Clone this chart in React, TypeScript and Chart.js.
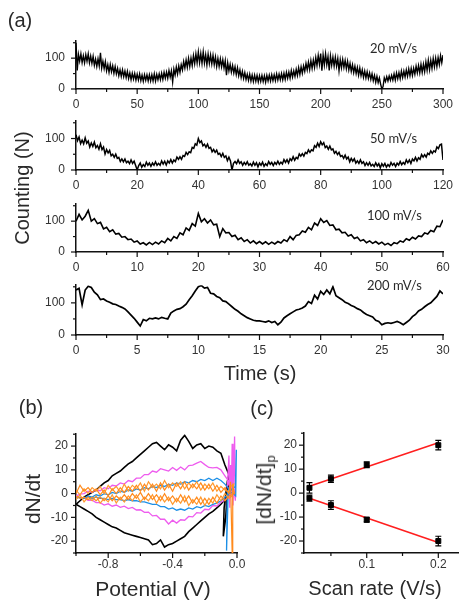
import React, { useEffect, useRef } from "react";
import { Chart, registerables } from "chart.js";

Chart.register(...registerables);

const FONT = "'Liberation Sans', Arial, Helvetica, sans-serif";
const TXT = "#2a2a2a";
const TICK_TXT = "#333";
const AXIS = "#111";

// ---------------- Panel (a): counting traces (uniform sampling) ----------------
const A1_DT = 1; // s, 20 mV/s
const A1_COUNTS = [
  150, 60, 112, 90, 114, 86, 108, 85, 111, 90,
  114, 85, 107, 83, 106, 77, 97, 73, 98, 75,
  117, 68, 90, 66, 89, 59, 79, 54, 79, 56,
  75, 51, 73, 49, 67, 43, 62, 41, 62, 40,
  58, 37, 57, 34, 52, 30, 51, 32, 50, 29,
  48, 29, 49, 27, 45, 25, 46, 28, 46, 26,
  46, 26, 46, 26, 49, 26, 47, 30, 49, 30,
  51, 31, 54, 35, 55, 35, 60, 39, 59, 23,
  64, 45, 71, 49, 75, 54, 79, 62, 89, 68,
  94, 70, 99, 73, 100, 76, 108, 82, 114, 85,
  120, 85, 115, 83, 120, 84, 111, 78, 113, 83,
  110, 81, 109, 79, 104, 73, 99, 73, 98, 72,
  95, 68, 92, 45, 85, 59, 80, 55, 76, 52,
  72, 47, 69, 43, 62, 37, 57, 34, 53, 31,
  48, 28, 48, 26, 45, 24, 45, 25, 44, 23,
  43, 25, 44, 24, 43, 22, 44, 26, 45, 26,
  46, 27, 46, 27, 49, 29, 48, 30, 50, 30,
  51, 31, 54, 35, 55, 35, 60, 39, 59, 41,
  64, 44, 69, 47, 72, 51, 75, 57, 83, 62,
  87, 63, 92, 67, 94, 70, 102, 76, 109, 80,
  115, 59, 110, 78, 114, 79, 105, 60, 107, 77,
  103, 74, 103, 74, 99, 59, 95, 69, 96, 70,
  93, 66, 90, 62, 83, 57, 78, 53, 74, 50,
  70, 45, 68, 43, 62, 38, 58, 36, 56, 34,
  52, 31, 49, 27, 44, 22, 41, 21, 36, 16,
  0, 8, 36, 24, 40, 26, 42, 28, 44, 29,
  49, 29, 52, 33, 53, 33, 58, 37, 58, 39,
  62, 41, 65, 43, 67, 44, 67, 48, 74, 52,
  76, 52, 80, 54, 80, 56, 88, 61, 93, 63,
  93, 67, 99, 72, 100, 73, 102, 79, 108, 85,
  110,
];

const A2_DT = 0.5; // s, 50 mV/s
const A2_COUNTS = [
  112, 93, 105, 84, 95, 83, 102, 85, 92, 73,
  86, 75, 89, 71, 78, 66, 83, 65, 73, 51,
  65, 54, 62, 45, 50, 40, 50, 37, 40, 27,
  35, 26, 35, 23, 28, 20, 32, 21, 28, 14,
  0, 14, 22, 9, 17, 11, 25, 15, 22, 12,
  22, 15, 26, 15, 21, 15, 29, 19, 28, 16,
  29, 22, 33, 22, 32, 27, 41, 34, 42, 34,
  46, 43, 56, 49, 58, 55, 72, 69, 83, 79,
  100, 87, 92, 77, 82, 72, 82, 69, 72, 58,
  65, 56, 63, 50, 53, 43, 53, 40, 45, 30,
  41, 29, 0, 21, 27, 20, 32, 21, 26, 15,
  24, 17, 26, 15, 20, 13, 25, 15, 23, 10,
  22, 15, 25, 12, 20, 14, 27, 18, 24, 14,
  24, 18, 28, 18, 25, 19, 33, 24, 33, 22,
  36, 30, 42, 31, 40, 36, 51, 44, 52, 44,
  56, 52, 64, 56, 64, 61, 77, 72, 85, 75,
  90, 80, 87, 71, 76, 66, 76, 64, 67, 53,
  59, 49, 56, 43, 46, 37, 47, 35, 41, 26,
  37, 28, 36, 22, 29, 21, 32, 21, 26, 14,
  23, 15, 24, 13, 18, 11, 23, 13, 20, 7,
  20, 12, 21, 9, 17, 11, 24, 15, 21, 11,
  22, 16, 27, 17, 24, 18, 32, 23, 32, 21,
  35, 29, 40, 29, 39, 34, 49, 41, 49, 41,
  53, 49, 61, 53, 61, 57, 73, 68, 80, 82,
  32,
];

const A3_DT = 0.5; // s, 100 mV/s
const A3_COUNTS = [
  100, 122, 104, 116, 135, 100, 108, 92, 96, 75,
  80, 66, 72, 58, 60, 48, 50, 40, 42, 32,
  36, 26, 30, 23, 31, 24, 32, 26, 36, 30,
  44, 36, 50, 44, 62, 56, 78, 70, 92, 84,
  125, 98, 108, 94, 104, 88, 90, 50, 76, 62,
  63, 50, 54, 40, 46, 34, 40, 29, 36, 27,
  34, 26, 33, 25, 32, 26, 34, 29, 40, 34,
  50, 40, 54, 56, 68, 64, 80, 72, 94, 86,
  108, 96, 102, 86, 88, 72, 74, 62, 64, 52,
  56, 44, 48, 36, 40, 30, 36, 28, 34, 26,
  32, 23, 28, 21, 30, 27, 36, 32, 43, 38,
  48, 42, 52, 50, 62, 58, 70, 66, 84, 82,
  104,
];

const A4_DT = 0.25; // s, 200 mV/s
const A4_COUNTS = [
  140, 145, 94, 140, 152, 148, 133, 125, 110, 112,
  106, 102, 97, 95, 90, 86, 81, 72, 62, 52,
  40, 28, 48, 44, 52, 50, 53, 50, 55, 52,
  50, 68, 75, 80, 82, 88, 96, 110, 122, 137,
  150, 154, 146, 148, 130, 128, 120, 116, 106, 104,
  96, 88, 80, 74, 66, 60, 54, 50, 46, 44,
  44, 42, 40, 44, 39, 42, 32, 40, 53, 60,
  66, 72, 78, 80, 84, 90, 104, 98, 124, 112,
  136, 126, 140, 128, 150, 122, 116, 110, 102, 98,
  92, 88, 82, 78, 70, 64, 60, 56, 46, 42,
  32, 36, 38, 36, 39, 42, 38, 32, 39, 46,
  57, 64, 75, 80, 88, 95, 100, 110, 120, 137,
  128,
];

// ---------------- Panel (b): dN/dt vs potential ----------------
const CV_POT = [
  -1.0, -0.975, -0.95, -0.925, -0.9, -0.875, -0.85, -0.825, -0.8, -0.775,
  -0.75, -0.725, -0.7, -0.675, -0.65, -0.625, -0.6, -0.575, -0.55, -0.525,
  -0.5, -0.475, -0.45, -0.425, -0.4, -0.375, -0.35, -0.325, -0.3, -0.275,
  -0.25, -0.225, -0.2, -0.175, -0.15, -0.125, -0.1, -0.075, -0.05,
];
const CV_POT_BACK = [...CV_POT].reverse();

const BLACK_UP = [
  -4.5, -3, -1.5, -0.5, 0.5, 1.5, 3, 4.5, 5.5, 7.5,
  8.5, 9.5, 11, 12.5, 13.5, 15, 16.5, 18, 19.5, 21,
  21.5, 20, 18.5, 20.5, 19.5, 18, 22.5, 24.5, 22, 19,
  20.5, 21, 19, 20, 19.5, 18, 17, 12, 8,
];
const BLACK_END_V = [-0.06, -0.08, -0.085, -0.07, -0.06, -0.05, -0.045];
const BLACK_END_D = [5, -6, -18, -10, 2, 5, 1];
const BLACK_DOWN = [
  -1, -2.5, -4.5, -6, -7.5, -8.5, -10, -11.5, -13, -14.5,
  -16, -18, -19, -20, -21, -21.5, -22.5, -19.5, -21, -21.5,
  -19.5, -19, -18.5, -18, -17.5, -17, -16.5, -15.5, -14.5, -14,
  -13, -12, -11, -10, -8.5, -7.5, -6.5, -5.5, -4.5,
];

const MAGENTA_UP = [
  -1, -0.2, 0, 1, 0.5, 1.5, 1.2, 2.5, 2, 3.5,
  3.2, 4.5, 4, 5.5, 5, 6.5, 6.5, 8, 8, 9.5,
  9, 10.5, 10, 9.5, 11, 9.8, 11.2, 10, 11.8, 12,
  12.8, 13.5, 12.2, 11, 10.8, 11, 10, 7.5, 5,
];
const MAGENTA_END_V = [-0.06, -0.05, -0.045, -0.04, -0.035, -0.03, -0.025, -0.02, -0.015, -0.01, -0.02, -0.04];
const MAGENTA_END_D = [3, 16, -6, 12, 0, 21, -5, 8, 24, -3, 2, -1];
const MAGENTA_DOWN = [
  -1, -2.8, -3.6, -5.2, -5, -6.8, -6.6, -8.2, -8, -9.8,
  -9.6, -11.2, -11, -12.4, -11.2, -12.8, -10.8, -10.8, -9.2, -9.4,
  -7.8, -7.9, -6.8, -6.9, -5.8, -6.3, -5.3, -5.8, -4.8, -5.3,
  -4.3, -4.8, -3.8, -3.8, -2.8, -2.8, -1.8, -1.8, -1,
];

const BLUE_UP = [
  -2, -1.5, -2, -1, -1.5, -0.5, -1, 0, -0.5, 0.5,
  0, 1, 0.5, 1.5, 1, 2, 1.5, 2.5, 2, 3,
  2.5, 3.5, 3, 4, 3.5, 4.5, 4, 5, 4.5, 5.5,
  5, 6, 5.5, 6.5, 5.5, 6.5, 5.5, 4, 2,
];
const BLUE_END_V = [-0.06, -0.065, -0.055, -0.03, -0.01, -0.004, -0.008, -0.03];
const BLUE_END_D = [1, -24, 0, 2, 3, 18.5, -1, 0.5];
const BLUE_DOWN = [
  0, -1.5, -3, -4, -4.5, -5.5, -5, -6, -5.5, -6.5,
  -6, -7, -6.5, -7, -6, -6.5, -5.5, -5.5, -4.5, -4.5,
  -4, -3.5, -3.5, -3, -3, -2.5, -3, -2.5, -2.5, -2,
  -2.5, -2, -2, -1.5, -2, -1.5, -2, -1.5, -2,
];

// 20 mV/s: two recorded cycles
const ORANGE_UP = [
  0, 3.5, 1, 2.5, 0.5, 2, -0.5, 1.5, -1, 2,
  0, 2.5, 0.5, 3, 1, 3.5, 1, 4, 1.5, 4,
  1, 4.5, 1.5, 4, 1, 4.5, 2, 5, 1.5, 4,
  2, 4.5, 1.5, 4, 1, 3.5, 0.5, 2.5, 0,
];
const ORANGE_END_V = [-0.04, -0.03, -0.028, -0.025, -0.015, -0.03];
const ORANGE_END_D = [5, -25, 0, 3, 0, -0.5];
const ORANGE_DOWN = [
  -1, -3, -1, -4, -1.5, -4.5, -2, -4.5, -1.5, -4,
  -1, -3.5, -0.5, -3.5, -1, -3, 0, -3, -0.5, -2.5,
  0, -2.5, 0.5, -2, 0, -2.5, -0.5, -2.5, -1, -3,
  -1, -3, -1.5, -3, -1.5, -2.5, -1.5, -2, -1,
];
const ORANGE2_UP = [
  1.5, -0.5, 2, 0, 2.5, 1, 3, 0, 3.5, 1.5,
  3, 0.5, 4, 1, 3.5, 2, 4.5, 1, 5, 2.5,
  4, 2, 5.5, 2.5, 4.5, 3, 5, 2, 4.5, 2.5,
  5, 1.5, 4, 2, 4.5, 1, 3, 1.5, 0.5,
];
const ORANGE2_END_V = [-0.04, -0.02, -0.03];
const ORANGE2_END_D = [3, 4, -1];
const ORANGE2_DOWN = [
  -2, 0, -3, -0.5, -4, -2, -5, -1.5, -4.5, -2.5,
  -5, -1, -4, -2, -4.5, -1.5, -3.5, -1, -4, -0.5,
  -3, -1.5, -3.5, -0.5, -3, -1, -3.5, -1.5, -4, -0.5,
  -3.5, -2, -4, -1, -3, -1.5, -3.5, -0.5, -2.5,
];

// ---------------- Panel (c): peak dN/dt vs scan rate ----------------
const SCAN_RATES = [0.02, 0.05, 0.1, 0.2];
const PEAK_POS = [2.2, 6, 11.8, 20];
const PEAK_POS_ERR = [2.2, 1.5, 1.2, 2];
const PEAK_NEG = [-2.1, -5, -11.1, -20];
const PEAK_NEG_ERR = [1.3, 1.8, 1, 2];
const FIT_RATES = [0.02, 0.2];
const FIT_POS = [2.9, 21];
const FIT_NEG = [-2.1, -20.6];

// ---------------- helpers ----------------
const toPoints = (vals: number[], dt: number) => vals.map((v, i) => ({ x: i * dt, y: v }));
const zip = (xs: number[], ys: number[]) => xs.map((x, i) => ({ x, y: ys[i] }));
const cvLoop = (up: number[], ev: number[], ed: number[], down: number[]) => [
  ...zip(CV_POT, up),
  ...zip(ev, ed),
  ...zip(CV_POT_BACK, down),
];

const tickMarks = {
  id: "tickMarks",
  afterDraw(chart: any) {
    const { ctx, chartArea: ca } = chart;
    ctx.save();
    ctx.strokeStyle = AXIS;
    ctx.lineWidth = 1.2;
    ["x", "y"].forEach((id) => {
      const s = chart.scales[id];
      if (!s) return;
      s.ticks.forEach((t: any) => {
        const major = t.label !== "" && t.label !== undefined && t.label !== null;
        const len = major ? 5 : 3;
        const p = s.getPixelForValue(t.value);
        ctx.beginPath();
        if (id === "x") {
          ctx.moveTo(p, ca.bottom);
          ctx.lineTo(p, ca.bottom + len);
        } else {
          ctx.moveTo(ca.left, p);
          ctx.lineTo(ca.left - len, p);
        }
        ctx.stroke();
      });
    });
    ctx.restore();
  },
};

const errorBars = {
  id: "errorBars",
  afterDatasetsDraw(chart: any) {
    const { ctx } = chart;
    const xs = chart.scales.x;
    const ys = chart.scales.y;
    chart.data.datasets.forEach((ds: any) => {
      if (!ds.errors) return;
      ctx.save();
      ctx.strokeStyle = "#000";
      ctx.lineWidth = 1.2;
      ds.data.forEach((p: any, i: number) => {
        const x = xs.getPixelForValue(p.x);
        const yt = ys.getPixelForValue(p.y + ds.errors[i]);
        const yb = ys.getPixelForValue(p.y - ds.errors[i]);
        ctx.beginPath();
        ctx.moveTo(x, yt);
        ctx.lineTo(x, yb);
        ctx.moveTo(x - 3, yt);
        ctx.lineTo(x + 3, yt);
        ctx.moveTo(x - 3, yb);
        ctx.lineTo(x + 3, yb);
        ctx.stroke();
      });
      ctx.restore();
    });
  },
};

const TOP_PAD = 10;
const RIGHT_PAD = 24;

type Rect = { l: number; t: number; r: number; b: number };
type Spec = { rect: Rect; leftSpace: number; bottomSpace: number; config: any };

function axis(o: {
  min: number; max: number; step: number; size: number; padding: number;
  label: (v: number) => string; horizontal: boolean; space: number;
}) {
  return {
    type: "linear",
    min: o.min,
    max: o.max,
    grid: { display: false, drawTicks: false },
    border: { display: true, color: AXIS, width: 1.5 },
    ticks: {
      stepSize: o.step,
      autoSkip: false,
      includeBounds: false,
      maxRotation: 0,
      minRotation: 0,
      padding: o.padding,
      color: TICK_TXT,
      font: { family: FONT, size: o.size },
      callback: (v: number) => o.label(v),
    },
    afterFit: (s: any) => {
      if (o.horizontal) s.height = o.space;
      else s.width = o.space;
    },
  };
}

function baseOptions(x: any, y: any) {
  return {
    animation: false,
    responsive: false,
    devicePixelRatio: 1,
    layout: { padding: { top: TOP_PAD, right: RIGHT_PAD, left: 0, bottom: 0 } },
    plugins: { legend: { display: false }, tooltip: { enabled: false } },
    elements: { line: { tension: 0 }, point: { radius: 0 } },
    scales: { x, y },
  };
}

function traceSpec(rect: Rect, counts: number[], dt: number, xMax: number, xStep: number, labelEvery: number, width: number): Spec {
  const leftSpace = 60;
  const bottomSpace = 24;
  return {
    rect,
    leftSpace,
    bottomSpace,
    config: {
      type: "scatter",
      data: {
        datasets: [
          {
            data: toPoints(counts, dt),
            showLine: true,
            borderColor: "#000",
            borderWidth: width,
            pointRadius: 0,
          },
        ],
      },
      options: baseOptions(
        axis({ min: 0, max: xMax, step: xStep, size: 12, padding: 8, horizontal: true, space: bottomSpace,
          label: (v) => (Math.abs(v % labelEvery) < 1e-9 ? String(v) : "") }),
        axis({ min: 0, max: 155, step: 50, size: 12, padding: 11, horizontal: false, space: leftSpace,
          label: (v) => (v % 100 === 0 ? String(v) : "") })
      ),
      plugins: [tickMarks],
    },
  };
}

const SPECS: Spec[] = [
  traceSpec({ l: 76, t: 33, r: 443, b: 89 }, A1_COUNTS, A1_DT, 300, 25, 50, 1.4),
  traceSpec({ l: 76, t: 113, r: 443, b: 170 }, A2_COUNTS, A2_DT, 120, 10, 20, 1.5),
  traceSpec({ l: 76, t: 196, r: 443, b: 252 }, A3_COUNTS, A3_DT, 60, 5, 10, 1.6),
  traceSpec({ l: 76, t: 277, r: 443, b: 335 }, A4_COUNTS, A4_DT, 30, 2.5, 5, 1.7),
  {
    rect: { l: 76, t: 429, r: 237, b: 553 },
    leftSpace: 60,
    bottomSpace: 24,
    config: {
      type: "scatter",
      data: {
        datasets: [
          { data: cvLoop(ORANGE_UP, ORANGE_END_V, ORANGE_END_D, ORANGE_DOWN), showLine: true, borderColor: "#ff8a1c", borderWidth: 1.2, pointRadius: 0 },
          { data: cvLoop(ORANGE2_UP, ORANGE2_END_V, ORANGE2_END_D, ORANGE2_DOWN), showLine: true, borderColor: "#ff9a30", borderWidth: 1.2, pointRadius: 0 },
          { data: cvLoop(BLUE_UP, BLUE_END_V, BLUE_END_D, BLUE_DOWN), showLine: true, borderColor: "#1c8fe6", borderWidth: 1.3, pointRadius: 0 },
          { data: cvLoop(MAGENTA_UP, MAGENTA_END_V, MAGENTA_END_D, MAGENTA_DOWN), showLine: true, borderColor: "#ee5cee", borderWidth: 1.3, pointRadius: 0 },
          { data: cvLoop(BLACK_UP, BLACK_END_V, BLACK_END_D, BLACK_DOWN), showLine: true, borderColor: "#000", borderWidth: 1.6, pointRadius: 0 },
        ],
      },
      options: baseOptions(
        axis({ min: -1.0, max: 0.0, step: 0.2, size: 12, padding: 4, horizontal: true, space: 24,
          label: (v) => {
            const k = Math.round(v * 10);
            return k % 4 === 0 && k !== -12 ? (k / 10).toFixed(1) : "";
          } }),
        axis({ min: -25, max: 25, step: 5, size: 12, padding: 8, horizontal: false, space: 60,
          label: (v) => (v % 10 === 0 ? String(v) : "") })
      ),
      plugins: [tickMarks],
    },
  },
  {
    rect: { l: 304, t: 429, r: 458, b: 553 },
    leftSpace: 50,
    bottomSpace: 24,
    config: {
      type: "scatter",
      data: {
        datasets: [
          { data: zip(SCAN_RATES, PEAK_POS), errors: PEAK_POS_ERR, pointStyle: "rect", pointRadius: 3.5, backgroundColor: "#000", borderColor: "#000" },
          { data: zip(SCAN_RATES, PEAK_NEG), errors: PEAK_NEG_ERR, pointStyle: "rect", pointRadius: 3.5, backgroundColor: "#000", borderColor: "#000" },
          { data: zip(FIT_RATES, FIT_POS), showLine: true, borderColor: "#ff1f1f", borderWidth: 1.6, pointRadius: 0 },
          { data: zip(FIT_RATES, FIT_NEG), showLine: true, borderColor: "#ff1f1f", borderWidth: 1.6, pointRadius: 0 },
        ],
      },
      options: baseOptions(
        axis({ min: 0.0124, max: 0.2275, step: 0.05, size: 12, padding: 4, horizontal: true, space: 24,
          label: (v) => (Math.abs(v - 0.1) < 1e-9 || Math.abs(v - 0.2) < 1e-9 ? v.toFixed(1) : "") }),
        axis({ min: -25, max: 25, step: 5, size: 12, padding: 7, horizontal: false, space: 50,
          label: (v) => (v % 10 === 0 ? String(v) : "") })
      ),
      plugins: [tickMarks, errorBars],
    },
  },
];

function box(s: Spec) {
  const left = s.rect.l - s.leftSpace;
  const top = s.rect.t - TOP_PAD;
  const width = s.leftSpace + (s.rect.r - s.rect.l) + RIGHT_PAD;
  const height = TOP_PAD + (s.rect.b - s.rect.t) + s.bottomSpace;
  return { left, top, width, height };
}

function Label(props: {
  x: number; y: number; size: number; rotate?: boolean; left?: boolean; family?: string; children: any;
}) {
  const { x, y, size, rotate, left, family, children } = props;
  return (
    <div
      style={{
        position: "absolute",
        left: x,
        top: y,
        transform: `translate(${left ? "0" : "-50%"}, -50%)${rotate ? " rotate(-90deg)" : ""}`,
        fontFamily: family || FONT,
        fontSize: size,
        color: TXT,
        whiteSpace: "nowrap",
        lineHeight: 1,
      }}
    >
      {children}
    </div>
  );
}

export default function App() {
  const refs = useRef<(HTMLCanvasElement | null)[]>([]);

  useEffect(() => {
    const charts = SPECS.map((s, i) => new Chart(refs.current[i] as HTMLCanvasElement, s.config));
    return () => charts.forEach((c) => c.destroy());
  }, []);

  const rateFont = "Lato, 'Open Sans', sans-serif";

  return (
    <div style={{ position: "absolute", left: 0, top: 0, width: 469, height: 605, background: "#fff", overflow: "hidden" }}>
      {SPECS.map((s, i) => {
        const b = box(s);
        return (
          <canvas
            key={i}
            ref={(el) => {
              refs.current[i] = el;
            }}
            width={b.width}
            height={b.height}
            style={{ position: "absolute", left: b.left, top: b.top, width: b.width, height: b.height }}
          />
        );
      })}

      <Label x={20} y={20} size={20}>(a)</Label>
      <Label x={22} y={188} size={20} rotate>Counting (N)</Label>
      <Label x={260} y={373} size={20}>Time (s)</Label>

      <Label x={370} y={48} size={13} left family={rateFont}>20 mV/s</Label>
      <Label x={370} y={138} size={13} left family={rateFont}>50 mV/s</Label>
      <Label x={367} y={215} size={13} left family={rateFont}>100 mV/s</Label>
      <Label x={367} y={285} size={13} left family={rateFont}>200 mV/s</Label>

      <Label x={31} y={407} size={20}>(b)</Label>
      <Label x={32} y={499} size={21} rotate>dN/dt</Label>
      <Label x={153} y={588} size={21}>Potential (V)</Label>

      <Label x={262} y={408} size={20}>(c)</Label>
      <Label x={265} y={490} size={21} rotate>
        [dN/dt]<sub style={{ fontSize: "0.62em", verticalAlign: "-0.3em" }}>p</sub>
      </Label>
      <Label x={375} y={588} size={20}>Scan rate (V/s)</Label>
    </div>
  );
}
